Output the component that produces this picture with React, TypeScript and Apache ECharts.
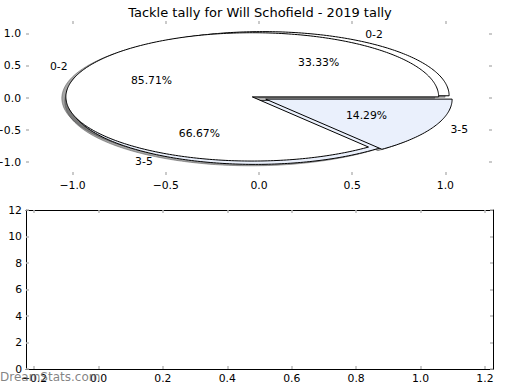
import React, { useEffect, useRef } from 'react';
import * as echarts from 'echarts';

const titleText = 'Tackle tally for Will Schofield - 2019 tally';
const sliceLabels = ['0-2', '3-5'];
const tallyFirst = [1, 2]; // 33.33% / 66.67%
const tallySecond = [6, 1]; // 85.71% / 14.29%
const sliceColors = ['#ffffff', '#eaf0fc'];
const pieTicks = [-1, -0.5, 0, 0.5, 1];
const lowerXTicks = [-0.2, 0, 0.2, 0.4, 0.6, 0.8, 1.0, 1.2];
const watermark = 'DreamStats.com';

const pies = [tallyFirst, tallySecond];
const EXPLODE = 0.04;
const SHADOW_OFF = 0.0217;
const FONT = '"DejaVu Sans", "Liberation Sans", sans-serif';
const TICK_COLOR = '#b8b8b8';

function wedgeGeom(values: number[], i: number) {
  const total = values.reduce((a, b) => a + b, 0);
  let before = 0;
  for (let k = 0; k < i; k++) before += values[k];
  const t1 = (before / total) * 360;
  const t2 = ((before + values[i]) / total) * 360;
  const mid = (((t1 + t2) / 2) * Math.PI) / 180;
  return {
    t1,
    t2,
    mid,
    cx: EXPLODE * Math.cos(mid),
    cy: EXPLODE * Math.sin(mid),
    frac: values[i] / total,
  };
}

function wedgePoints(api: any, values: number[], i: number, dx: number, dy: number) {
  const w = wedgeGeom(values, i);
  const pts: number[][] = [api.coord([w.cx + dx, w.cy + dy])];
  const n = Math.max(4, Math.ceil(w.t2 - w.t1));
  for (let k = 0; k <= n; k++) {
    const a = ((w.t1 + ((w.t2 - w.t1) * k) / n) * Math.PI) / 180;
    pts.push(api.coord([w.cx + dx + Math.cos(a), w.cy + dy + Math.sin(a)]));
  }
  return pts;
}

const fmt1 = (v: number) => (v < -1e-9 ? '\u2212' : '') + Math.abs(v).toFixed(1);

function tickCfg(values: number[] | null) {
  const t: any = { show: true, inside: true, length: 3, lineStyle: { color: TICK_COLOR, width: 1.5 } };
  if (values) t.customValues = values;
  return t;
}

export default function App() {
  const ref = useRef<HTMLDivElement>(null);
  useEffect(() => {
    document.body.style.margin = '0';
    if (!ref.current) return;
    const chart = echarts.init(ref.current, null, { renderer: 'svg' });

    const labelStyle = { fontSize: 10.8, fontFamily: FONT, color: '#000' };

    const pieSeries = pies.map((vals, p) => ({
      type: 'custom',
      name: 'pie' + p,
      xAxisIndex: 0,
      yAxisIndex: 0,
      z: 3 + p,
      clip: false,
      data: vals.map((v, i) => [i, v]),
      renderItem: (params: any, api: any) => {
        const i = params.dataIndex;
        return {
          type: 'polygon',
          shape: { points: wedgePoints(api, vals, i, 0, 0) },
          style: { fill: sliceColors[i], stroke: '#000', lineWidth: 1, lineJoin: 'miter' },
        };
      },
    }));

    const allWedges: number[][] = [];
    pies.forEach((vals, p) => vals.forEach((v, i) => allWedges.push([p, i, v])));

    const shadowSeries = {
      type: 'custom',
      name: 'shadow',
      xAxisIndex: 0,
      yAxisIndex: 0,
      z: 2,
      clip: false,
      data: allWedges,
      renderItem: (params: any, api: any) => {
        const [p, i] = allWedges[params.dataIndex];
        return {
          type: 'polygon',
          shape: { points: wedgePoints(api, pies[p], i, -SHADOW_OFF, -SHADOW_OFF) },
          style: { fill: 'rgba(77,77,77,0.5)', stroke: 'rgba(77,77,77,0.5)', lineWidth: 1 },
        };
      },
    };

    const labelSeries = {
      type: 'custom',
      name: 'labels',
      xAxisIndex: 0,
      yAxisIndex: 0,
      z: 10,
      clip: false,
      data: allWedges,
      renderItem: (params: any, api: any) => {
        const [p, i] = allWedges[params.dataIndex];
        const w = wedgeGeom(pies[p], i);
        const lx = w.cx + 1.1 * Math.cos(w.mid);
        const ly = w.cy + 1.1 * Math.sin(w.mid);
        const px = w.cx + 0.6 * Math.cos(w.mid);
        const py = w.cy + 0.6 * Math.sin(w.mid);
        const lp = api.coord([lx, ly]);
        const pp = api.coord([px, py]);
        return {
          type: 'group',
          children: [
            {
              type: 'text',
              x: lp[0],
              y: lp[1],
              style: {
                text: sliceLabels[i],
                fill: '#000',
                fontSize: 10.8,
                fontFamily: FONT,
                align: lx < 0 ? 'right' : 'left',
                verticalAlign: 'middle',
              },
            },
            {
              type: 'text',
              x: pp[0],
              y: pp[1],
              style: {
                text: (w.frac * 100).toFixed(2) + '%',
                fill: '#000',
                fontSize: 10.8,
                fontFamily: FONT,
                align: 'center',
                verticalAlign: 'middle',
              },
            },
          ],
        };
      },
    };

    const option: any = {
      animation: false,
      backgroundColor: '#ffffff',
      title: {
        text: titleText,
        left: 'center',
        top: 1,
        textStyle: { fontSize: 13, fontWeight: 'normal', fontFamily: FONT, color: '#000' },
      },
      grid: [
        { left: 26, top: 21, width: 466, height: 154, outerBoundsMode: 'none', containLabel: false },
        { left: 26, top: 210, width: 467, height: 159, outerBoundsMode: 'none', containLabel: false },
      ],
      xAxis: [
        {
          gridIndex: 0, type: 'value', min: -1.25, max: 1.25, position: 'bottom',
          axisLine: { show: false, onZero: false }, splitLine: { show: false },
          axisTick: tickCfg(pieTicks),
          axisLabel: { customValues: pieTicks, formatter: fmt1, margin: 5, ...labelStyle },
        },
        {
          gridIndex: 0, type: 'value', min: -1.25, max: 1.25, position: 'top',
          axisLine: { show: false, onZero: false }, splitLine: { show: false },
          axisTick: tickCfg(pieTicks), axisLabel: { show: false, customValues: pieTicks },
        },
        {
          gridIndex: 1, type: 'value', min: -0.225, max: 1.225, position: 'bottom',
          axisLine: { show: true, onZero: false, lineStyle: { color: '#000', width: 1 } }, splitLine: { show: false },
          axisTick: tickCfg(lowerXTicks),
          axisLabel: { customValues: lowerXTicks, formatter: fmt1, margin: 4, ...labelStyle },
        },
        {
          gridIndex: 1, type: 'value', min: -0.225, max: 1.225, position: 'top',
          axisLine: { show: true, onZero: false, lineStyle: { color: '#000', width: 1 } }, splitLine: { show: false },
          axisTick: tickCfg(lowerXTicks), axisLabel: { show: false, customValues: lowerXTicks },
        },
      ],
      yAxis: [
        {
          gridIndex: 0, type: 'value', min: -1.2, max: 1.2, position: 'left',
          axisLine: { show: false, onZero: false }, splitLine: { show: false },
          axisTick: tickCfg(pieTicks),
          axisLabel: { customValues: pieTicks, formatter: fmt1, margin: 5, ...labelStyle },
        },
        {
          gridIndex: 0, type: 'value', min: -1.2, max: 1.2, position: 'right',
          axisLine: { show: false, onZero: false }, splitLine: { show: false },
          axisTick: tickCfg(pieTicks), axisLabel: { show: false, customValues: pieTicks },
        },
        {
          gridIndex: 1, type: 'value', min: 0, max: 12, interval: 2, position: 'left',
          axisLine: { show: true, onZero: false, lineStyle: { color: '#000', width: 1 } }, splitLine: { show: false },
          axisTick: tickCfg(null),
          axisLabel: { margin: 4, ...labelStyle },
        },
        {
          gridIndex: 1, type: 'value', min: 0, max: 12, interval: 2, position: 'right',
          axisLine: { show: true, onZero: false, lineStyle: { color: '#000', width: 1 } }, splitLine: { show: false },
          axisTick: tickCfg(null), axisLabel: { show: false },
        },
      ],
      series: [shadowSeries, ...pieSeries, labelSeries],
      graphic: [
        {
          type: 'text',
          left: 0,
          top: 371,
          z: 100,
          style: { text: watermark, fontSize: 12, fontFamily: FONT, fill: 'rgba(110,110,110,0.85)' },
        },
      ],
    };

    chart.setOption(option);
    return () => chart.dispose();
  }, []);

  return <div ref={ref} style={{ width: 520, height: 390 }} />;
}
